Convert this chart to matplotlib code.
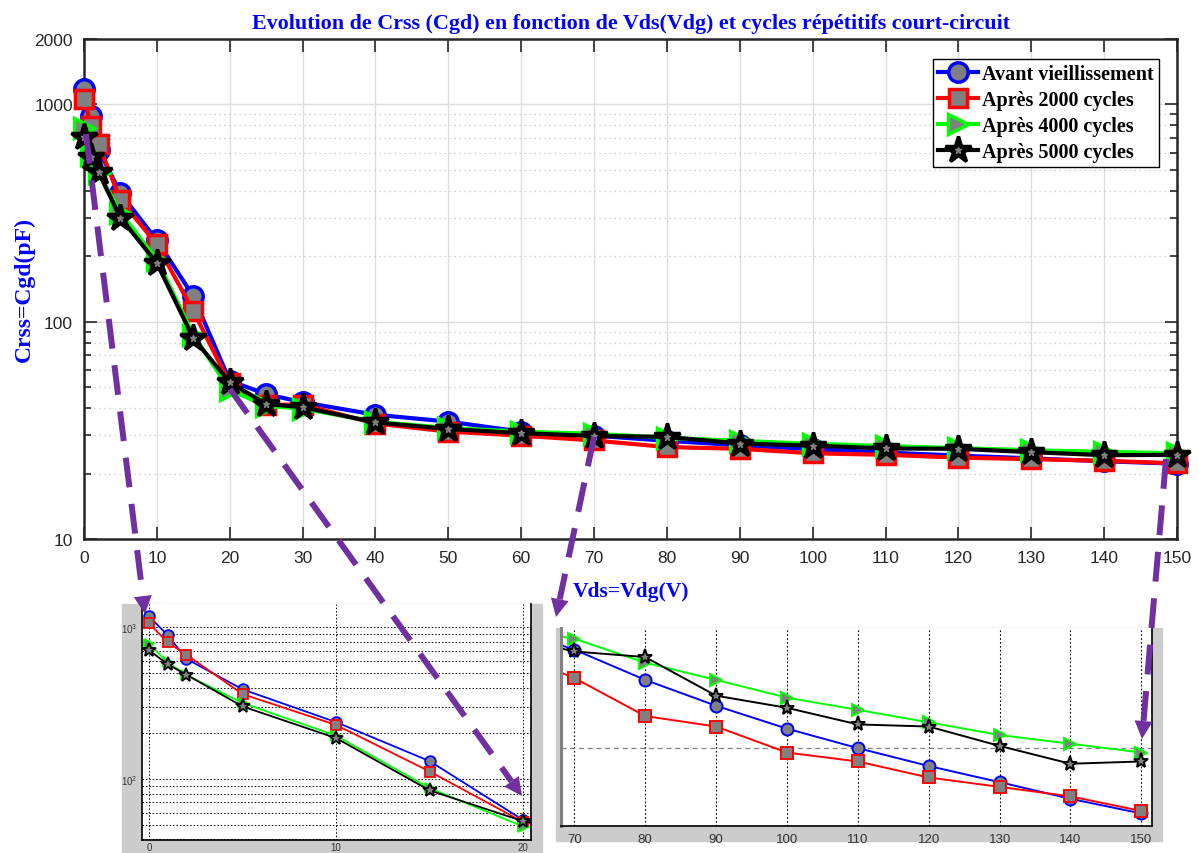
"""
Crss (Cgd) en fonction de Vds pour plusieurs cycles de court-circuit
courbe principale + deux zooms (0-20 V et 70-150 V)
"""

import numpy as np
import matplotlib
matplotlib.use("Agg")
import matplotlib.pyplot as plt
from matplotlib.patches import Rectangle, Polygon
from matplotlib.lines import Line2D
from matplotlib.ticker import LogLocator, NullFormatter, NullLocator, FixedLocator

plt.rcParams["font.family"] = ["Liberation Sans", "DejaVu Sans"]

# données
vds = [0, 1, 2, 5, 10, 15, 20, 25, 30, 40, 50, 60, 70, 80, 90, 100, 110, 120, 130, 140, 150]
crss_avant = [1180, 888, 620, 390, 237, 131, 53.5, 46.4, 42.6, 37.3, 34.7, 31.2,
              29.9, 28.3, 27.0, 25.9, 25.0, 24.2, 23.5, 22.8, 22.2]
crss_2000 = [1063, 796, 660, 363, 227, 112, 52.0, 41.5, 41.5, 34.0, 31.2, 29.9,
             28.4, 26.5, 26.0, 24.8, 24.4, 23.7, 23.3, 22.9, 22.3]
crss_4000 = [776, 588, 485, 317, 193, 87, 48.5, 41.0, 39.8, 34.6, 32.4, 31.2,
             30.5, 29.2, 28.3, 27.4, 26.8, 26.2, 25.6, 25.2, 24.8]
crss_5000 = [708, 570, 487, 301, 186, 84, 52.6, 41.8, 40.4, 34.4, 32.1, 30.7,
             29.8, 29.5, 27.5, 26.9, 26.1, 26.0, 25.1, 24.3, 24.4]
labels = ["Avant vieillissement", "Après 2000 cycles", "Après 4000 cycles", "Après 5000 cycles"]
x_ticks = list(range(0, 151, 10))
y_ticks = [10, 100, 1000, 2000]

# styles (couleur, marqueur, taille)
styles = [("blue", "o", 14), ("red", "s", 13), ("#00ff00", ">", 14), ("black", "*", 20)]
GRAY = "#808080"
PURPLE = "#7030A0"
SERIF = dict(family="Liberation Serif", weight="bold")

W, H = 1199, 854


def fig_rect(x0, y0, x1, y1):
    """pixels (origine en haut à gauche) -> rect matplotlib"""
    return [x0 / W, 1 - y1 / H, (x1 - x0) / W, (y1 - y0) / H]


def fig_pt(x, y):
    return (x / W, 1 - y / H)


def draw_arrow(fig, start, tip, head_len=18, head_w=18):
    """flèche violette en tirets, coordonnées en pixels"""
    s = np.array(start, float)
    t = np.array(tip, float)
    u = (t - s) / np.hypot(*(t - s))
    n = np.array([-u[1], u[0]])
    base = t - u * head_len
    fig.add_artist(Line2D([s[0] / W, base[0] / W], [1 - s[1] / H, 1 - base[1] / H],
                          transform=fig.transFigure, color=PURPLE, lw=4.3,
                          ls=(0, (5, 2.8)), zorder=10))
    tri = [fig_pt(*t), fig_pt(*(base + n * head_w / 2)), fig_pt(*(base - n * head_w / 2))]
    fig.add_artist(Polygon(tri, closed=True, transform=fig.transFigure,
                           color=PURPLE, lw=0, zorder=10))


series = [crss_avant, crss_2000, crss_4000, crss_5000]

fig = plt.figure(figsize=(W / 100, H / 100), dpi=100)

# ---- courbe principale ----
ax = fig.add_axes(fig_rect(84, 40, 1177, 540))
ax.set_yscale("log")
handles = []
for vals, (col, mk, ms), lab in zip(series, styles, labels):
    face = "black" if mk == "*" else GRAY
    ln, = ax.plot(vds, vals, color=col, lw=3, marker=mk, ms=ms, mfc=face,
                  mec=col, mew=2.5, clip_on=False, zorder=3)
    if mk == "*":
        inner, = ax.plot(vds, vals, ls="none", marker="*", ms=5, mfc=GRAY,
                         mec=GRAY, clip_on=False, zorder=4)
        handles.append((ln, inner))
    else:
        handles.append(ln)

ax.set_xlim(0, 150)
ax.set_ylim(10, 2000)
ax.set_xticks(x_ticks)
ax.yaxis.set_major_locator(FixedLocator(y_ticks))
ax.set_yticklabels([str(v) for v in y_ticks])
ax.yaxis.set_minor_locator(LogLocator(base=10, subs=range(2, 10)))
ax.yaxis.set_minor_formatter(NullFormatter())
ax.grid(which="major", color="#dddddd", lw=1)
ax.grid(which="minor", axis="y", color="#c4c4c4", ls=(0, (1, 3)), lw=0.9)
ax.set_axisbelow(True)
ax.tick_params(which="both", direction="in", top=True, right=True,
               labelsize=12.5, colors="#262626", width=1.2)
ax.tick_params(which="major", length=9, pad=8)
ax.tick_params(which="minor", length=5)
for sp in ax.spines.values():
    sp.set_color("#262626")
    sp.set_linewidth(1.8)

ax.set_title("Evolution de Crss (Cgd) en fonction de Vds(Vdg) et cycles répétitifs court-circuit",
             color="blue", fontsize=15.8, pad=8, **SERIF)
fig.text(24 / W, 1 - 290 / H, "Crss=Cgd(pF)", rotation=90, ha="center", va="center",
         color="blue", fontsize=17, **SERIF)
fig.text(631 / W, 1 - 592 / H, "Vds=Vdg(V)", ha="center", va="center",
         color="blue", fontsize=15.5, **SERIF)

leg = ax.legend(handles, labels, loc="upper right", bbox_to_anchor=fig_pt(1159, 60),
                bbox_transform=fig.transFigure, borderaxespad=0, fancybox=False,
                framealpha=1, edgecolor="black", handlelength=2.0, handletextpad=0.2,
                labelspacing=0.3, borderpad=0.25,
                prop=dict(family="Liberation Serif", weight="bold", size=14.5))
leg.get_frame().set_linewidth(1.0)

# ---- fonds gris des zooms ----
fig.add_artist(Rectangle(fig_pt(122, 854), 420 / W, 249 / H, transform=fig.transFigure,
                         color="#cccccc", zorder=-1))
fig.add_artist(Rectangle(fig_pt(556, 842), 606 / W, 213 / H, transform=fig.transFigure,
                         color="#cccccc", zorder=-1))

# ---- zoom 0-20 V ----
axl = fig.add_axes(fig_rect(142, 605, 531, 841))
axl.set_yscale("log")
for vals, (col, mk, ms) in zip(series, styles):
    axl.plot(vds, vals, color=col, lw=1.3, marker=mk, ms=ms * 0.55 if mk != "*" else 10,
             mfc=GRAY, mec=col, mew=1.3)
axl.set_xlim(-0.37, 20.41)
axl.set_ylim(39.6, 1425)
axl.set_xticks([0, 10, 20])
axl.yaxis.set_major_locator(FixedLocator([100, 1000]))
axl.yaxis.set_minor_locator(LogLocator(base=10, subs=range(2, 10)))
axl.yaxis.set_minor_formatter(NullFormatter())
axl.grid(which="both", color="black", ls=(0, (1.5, 2)), lw=0.7)
axl.tick_params(which="both", length=0, labelsize=7, colors="#333333", pad=3)
axl.tick_params(axis="x", pad=1.5)
axl.spines["top"].set_visible(False)
for side in ["left", "bottom", "right"]:
    axl.spines[side].set_color("black")
    axl.spines[side].set_linewidth(1.2)

# ---- zoom 70-150 V ----
axr = fig.add_axes(fig_rect(561, 629, 1152, 827))
axr.set_yscale("log")
for vals, (col, mk, ms) in zip(series, styles):
    axr.plot(vds, vals, color=col, lw=1.4, marker=mk, ms=ms * 0.62 if mk != "*" else 11,
             mfc=GRAY, mec=col, mew=1.4)
axr.set_xlim(68.12, 151.5)
axr.set_ylim(21.7, 31.1)
axr.set_xticks(x_ticks[7:])
axr.yaxis.set_major_locator(FixedLocator([25]))
axr.yaxis.set_minor_locator(NullLocator())
axr.set_yticklabels([])
axr.grid(axis="x", color="black", ls=(0, (1.5, 2)), lw=0.8)
axr.grid(axis="y", color=GRAY, ls=(0, (4, 3)), lw=0.9)
axr.tick_params(length=0, labelsize=9.5, colors="#333333", pad=5)
axr.spines["top"].set_visible(False)
axr.spines["left"].set_color(GRAY)
axr.spines["left"].set_linewidth(2.2)
axr.spines["bottom"].set_linewidth(1.2)
axr.spines["right"].set_linewidth(1.2)

# ---- flèches ----
draw_arrow(fig, (86, 135), (145, 615))
draw_arrow(fig, (230, 390), (522, 797))
draw_arrow(fig, (594, 438), (556, 618))
draw_arrow(fig, (1166, 460), (1142, 740))

fig.savefig("out.png", dpi=100, facecolor="white")
